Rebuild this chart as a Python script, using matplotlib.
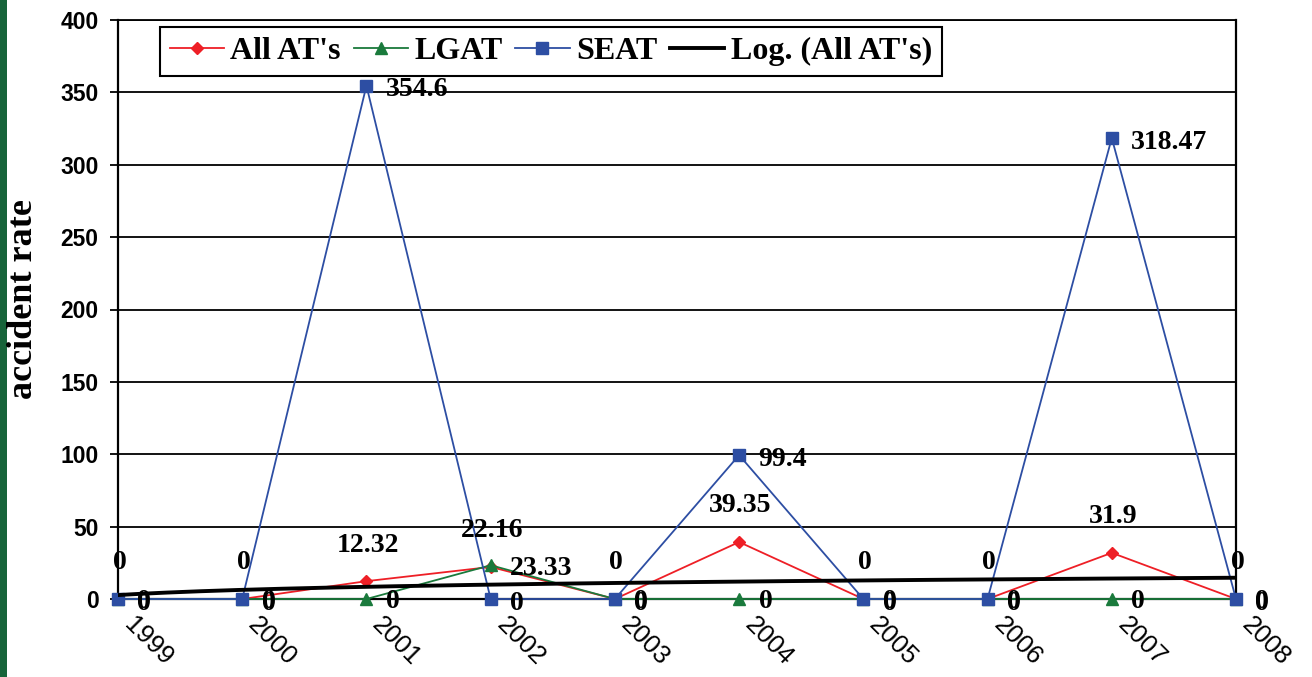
import numpy as np
import matplotlib.pyplot as plt
from matplotlib.patches import Rectangle

years = ['1999', '2000', '2001', '2002', '2003', '2004', '2005', '2006', '2007', '2008']
all_at = [0, 0, 12.32, 22.16, 0, 39.35, 0, 0, 31.9, 0]
lgat = [0, 0, 0, 23.33, 0, 0, 0, 0, 0, 0]
seat = [0, 0, 354.6, 0, 0, 99.4, 0, 0, 318.47, 0]
yticks = [0, 50, 100, 150, 200, 250, 300, 350, 400]

SERIF = 'Liberation Serif'
SANS = 'Liberation Sans'
RED = '#ee1f26'
GREEN = '#1a7a3c'
BLUE = '#2d4ea3'

fig = plt.figure(figsize=(13.12, 6.77), dpi=100)
fig.patches.append(Rectangle((0, 0), 7 / 1312, 1, transform=fig.transFigure,
                             facecolor='#17643a', edgecolor='none'))
ax = fig.add_axes([118 / 1312, 1 - 599 / 677, (1236 - 118) / 1312, (599 - 20) / 677])

x = np.arange(len(years))

# logarithmic trendline of All AT's: y = a*ln(k) + b, k = 1..n
k = np.arange(1, len(years) + 1)
a, b = np.polyfit(np.log(k), all_at, 1)
kk = np.linspace(1, len(years), 300)
trend = a * np.log(kk) + b

ax.plot(x, all_at, color=RED, lw=1.3, marker='D', ms=6.5, label="All AT's",
        zorder=3, clip_on=False)
ax.plot(x, lgat, color=GREEN, lw=1.3, marker='^', ms=9, label='LGAT',
        zorder=4, clip_on=False)
ax.plot(x, seat, color=BLUE, lw=1.3, marker='s', ms=8.5, label='SEAT',
        zorder=5, clip_on=False)
ax.plot(kk - 1, trend, color='black', lw=2.8, label="Log. (All AT's)", zorder=6)

lab = dict(fontsize=20, fontweight='bold', family=SERIF, color='black', zorder=7,
           annotation_clip=False)
for xi, v in zip(x, all_at):
    ax.annotate(f'{v:g}', (xi, v), xytext=(1, 26), textcoords='offset points',
                ha='center', va='center', **lab)
for xi, v in zip(x, lgat):
    ax.annotate(f'{v:g}', (xi, v), xytext=(14, -2), textcoords='offset points',
                ha='left', va='center', **lab)
for xi, v in zip(x, seat):
    ax.annotate(f'{v:g}', (xi, v), xytext=(14, -3), textcoords='offset points',
                ha='left', va='center', **lab)

ax.set_xlim(0, len(years) - 1)
ax.set_ylim(0, 400)
ax.set_yticks(yticks)
ax.set_yticklabels([str(t) for t in yticks], fontsize=16.5, fontweight='bold', family=SANS)
ax.set_xticks(x)
ax.set_xticklabels([])
# year labels slanted down to the right, starting just right of each tick
for xi, yr in zip(x, years):
    ax.annotate(yr, (xi, 0), xycoords=('data', 'axes fraction'),
                xytext=(7, -16), textcoords='offset points', fontsize=18.5,
                family=SANS, rotation=-45, rotation_mode='anchor',
                ha='left', va='center', annotation_clip=False)

ax.yaxis.grid(True, color='black', lw=1.3)
ax.set_axisbelow(True)
ax.tick_params(axis='y', direction='out', length=6, width=1.3, pad=8)
ax.tick_params(axis='x', direction='out', length=4, width=1.3)
for side in ['left', 'bottom', 'right', 'top']:
    ax.spines[side].set_linewidth(1.6)
ax.spines['top'].set_linewidth(1.3)

fig.text(24 / 1312, 1 - 299 / 677, 'accident rate', rotation=90, ha='center', va='center',
         fontsize=26, fontweight='bold', family=SERIF)

leg = ax.legend(loc='upper left', bbox_to_anchor=(42 / 1118, 1 - 7 / 579), ncol=4,
                prop={'family': SERIF, 'weight': 'bold', 'size': 23},
                handlelength=1.7, handletextpad=0.2, columnspacing=0.4,
                borderpad=0.3, borderaxespad=0, fancybox=False, framealpha=1)
leg.get_frame().set_edgecolor('black')
leg.get_frame().set_linewidth(1.5)
leg.set_zorder(10)

fig.savefig('out.png', dpi=100)
